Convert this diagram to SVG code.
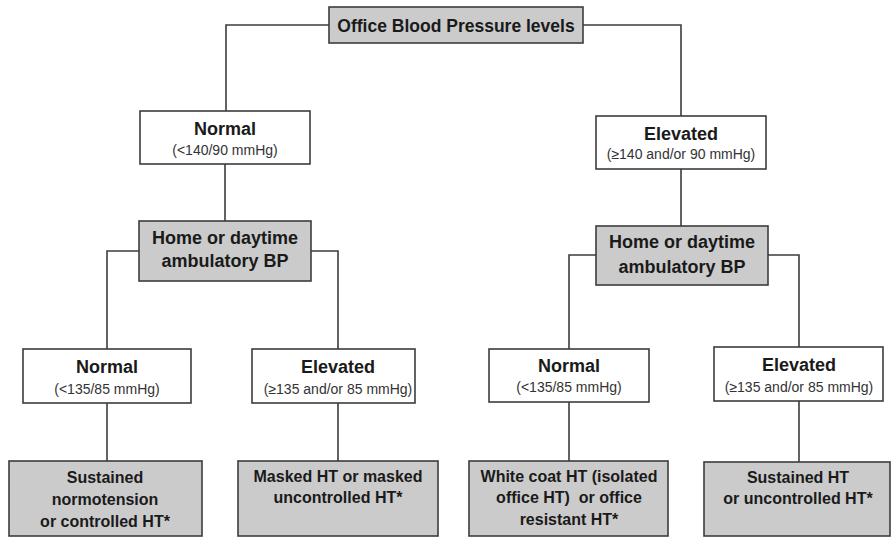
<svg xmlns="http://www.w3.org/2000/svg" width="891" height="538" viewBox="0 0 891 538">
<style>
.w{fill:#ffffff;stroke:#3c3c3c;stroke-width:1.6}
.g{fill:#cbcbcb;stroke:#3c3c3c;stroke-width:1.6}
.t{font-family:"Liberation Sans",Arial,sans-serif;font-weight:bold;font-size:18px;fill:#1a1a1a;text-anchor:middle}
.s{font-family:"Liberation Sans",Arial,sans-serif;font-size:14px;fill:#333333;text-anchor:middle}
.o{font-family:"Liberation Sans",Arial,sans-serif;font-weight:bold;font-size:16px;fill:#1a1a1a;text-anchor:middle}
.c{fill:none;stroke:#3c3c3c;stroke-width:1.6}
</style>
<g id="connectors">
<polyline class="c" points="329,25 226,25 226,111"/>
<polyline class="c" points="583,25 681,25 681,116"/>
<line class="c" x1="225" y1="164" x2="225" y2="221"/>
<line class="c" x1="681" y1="169" x2="681" y2="226"/>
<polyline class="c" points="139,251 107,251 107,349"/>
<polyline class="c" points="311,251 338,251 338,349"/>
<polyline class="c" points="596,255 569,255 569,349"/>
<polyline class="c" points="768,255 799,255 799,347"/>
<line class="c" x1="107" y1="403" x2="107" y2="461"/>
<line class="c" x1="338" y1="403" x2="338" y2="461"/>
<line class="c" x1="569" y1="402" x2="569" y2="461"/>
<line class="c" x1="799" y1="401" x2="799" y2="462"/>
</g>
<g id="office-bp">
<rect class="g" x="329" y="7" width="254" height="36"/>
<text class="t" x="456" y="32" style="font-size:17.5px">Office Blood Pressure levels</text>
</g>
<g id="office-normal">
<rect class="w" x="140" y="111" width="170" height="53"/>
<text class="t" x="225" y="135">Normal</text>
<text class="s" x="225" y="155">(&lt;140/90 mmHg)</text>
</g>
<g id="office-elevated">
<rect class="w" x="596" y="116" width="170" height="53"/>
<text class="t" x="681" y="140">Elevated</text>
<text class="s" x="681" y="159">(≥140 and/or 90 mmHg)</text>
</g>
<g id="home-left">
<rect class="g" x="139" y="221" width="172" height="60"/>
<text class="t" x="225" y="244">Home or daytime</text>
<text class="t" x="225" y="267">ambulatory BP</text>
</g>
<g id="home-right">
<rect class="g" x="596" y="226" width="172" height="59"/>
<text class="t" x="682" y="248">Home or daytime</text>
<text class="t" x="682" y="273">ambulatory BP</text>
</g>
<g id="ll-normal">
<rect class="w" x="23" y="349" width="168" height="54"/>
<text class="t" x="107" y="373">Normal</text>
<text class="s" x="107" y="394">(&lt;135/85 mmHg)</text>
</g>
<g id="lr-elevated">
<rect class="w" x="252" y="349" width="163" height="54"/>
<text class="t" x="338" y="373">Elevated</text>
<text class="s" x="338" y="394">(≥135 and/or 85 mmHg)</text>
</g>
<g id="rl-normal">
<rect class="w" x="489" y="349" width="160" height="53"/>
<text class="t" x="569" y="372">Normal</text>
<text class="s" x="569" y="392">(&lt;135/85 mmHg)</text>
</g>
<g id="rr-elevated">
<rect class="w" x="714" y="347" width="169" height="54"/>
<text class="t" x="799" y="371">Elevated</text>
<text class="s" x="799" y="392">(≥135 and/or 85 mmHg)</text>
</g>
<g id="out-sustained-normo">
<rect class="g" x="9" y="461" width="193" height="75"/>
<text class="o" x="105" y="483">Sustained</text>
<text class="o" x="105" y="505">normotension</text>
<text class="o" x="105" y="527">or controlled HT*</text>
</g>
<g id="out-masked">
<rect class="g" x="238" y="461" width="200" height="75"/>
<text class="o" x="338" y="482">Masked HT or masked</text>
<text class="o" x="338" y="503">uncontrolled HT*</text>
</g>
<g id="out-whitecoat">
<rect class="g" x="469" y="461" width="199" height="75"/>
<text class="o" x="569" y="482">White coat HT (isolated</text>
<text class="o" x="569" y="503">office HT)&#160; or office</text>
<text class="o" x="569" y="525">resistant HT*</text>
</g>
<g id="out-sustained-ht">
<rect class="g" x="704" y="462" width="186" height="74"/>
<text class="o" x="798" y="483">Sustained HT</text>
<text class="o" x="798" y="504">or uncontrolled HT*</text>
</g>
</svg>
